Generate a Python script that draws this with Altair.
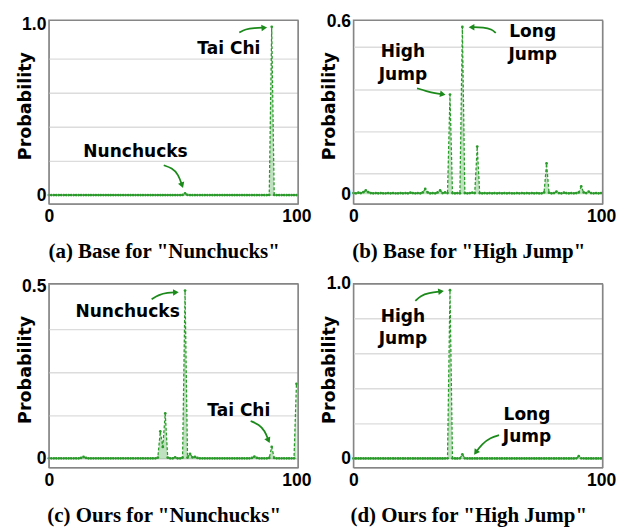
import altair as alt
import pandas as pd

X = list(range(101))

# ---- series values (probability per class index 0..100) ----
prob_a = [
    0.002, 0.002, 0.002, 0.002, 0.002, 0.002, 0.002, 0.002, 0.002, 0.002,
    0.002, 0.002, 0.002, 0.002, 0.002, 0.002, 0.002, 0.002, 0.002, 0.002,
    0.002, 0.002, 0.002, 0.002, 0.002, 0.002, 0.002, 0.002, 0.002, 0.002,
    0.002, 0.002, 0.002, 0.002, 0.002, 0.002, 0.002, 0.002, 0.002, 0.002,
    0.002, 0.002, 0.002, 0.002, 0.002, 0.002, 0.002, 0.002, 0.002, 0.002,
    0.002, 0.002, 0.002, 0.002, 0.003, 0.012, 0.003, 0.002, 0.002, 0.002,
    0.002, 0.002, 0.002, 0.002, 0.002, 0.002, 0.002, 0.002, 0.002, 0.002,
    0.002, 0.002, 0.002, 0.002, 0.002, 0.002, 0.002, 0.002, 0.002, 0.002,
    0.002, 0.002, 0.002, 0.002, 0.002, 0.002, 0.002, 0.002, 0.002, 0.003,
    0.990, 0.003, 0.002, 0.002, 0.002, 0.002, 0.002, 0.002, 0.002, 0.002,
    0.002,
]
prob_b = [
    0.004, 0.003, 0.005, 0.004, 0.007, 0.013, 0.007, 0.004, 0.003, 0.004,
    0.003, 0.004, 0.003, 0.003, 0.004, 0.003, 0.004, 0.003, 0.003, 0.004,
    0.003, 0.004, 0.003, 0.005, 0.004, 0.003, 0.004, 0.003, 0.006, 0.018,
    0.006, 0.003, 0.004, 0.003, 0.006, 0.013, 0.004, 0.006, 0.004, 0.347,
    0.004, 0.003, 0.004, 0.003, 0.583, 0.004, 0.003, 0.004, 0.005, 0.004,
    0.166, 0.004, 0.003, 0.004, 0.003, 0.004, 0.003, 0.004, 0.003, 0.004,
    0.003, 0.004, 0.003, 0.004, 0.003, 0.003, 0.004, 0.003, 0.004, 0.003,
    0.004, 0.003, 0.004, 0.003, 0.004, 0.003, 0.003, 0.006, 0.107, 0.005,
    0.003, 0.004, 0.009, 0.004, 0.003, 0.005, 0.004, 0.003, 0.004, 0.003,
    0.004, 0.006, 0.027, 0.006, 0.004, 0.009, 0.004, 0.003, 0.004, 0.003,
    0.004,
]
prob_c = [
    0.002, 0.002, 0.002, 0.002, 0.002, 0.002, 0.002, 0.002, 0.002, 0.002,
    0.002, 0.002, 0.002, 0.003, 0.006, 0.003, 0.002, 0.002, 0.002, 0.002,
    0.002, 0.002, 0.002, 0.002, 0.002, 0.002, 0.002, 0.002, 0.002, 0.002,
    0.002, 0.002, 0.002, 0.002, 0.002, 0.002, 0.002, 0.002, 0.002, 0.002,
    0.002, 0.002, 0.002, 0.002, 0.004, 0.080, 0.035, 0.132, 0.004, 0.002,
    0.002, 0.005, 0.002, 0.002, 0.004, 0.488, 0.004, 0.015, 0.005, 0.006,
    0.003, 0.002, 0.002, 0.002, 0.002, 0.002, 0.002, 0.002, 0.002, 0.002,
    0.002, 0.002, 0.002, 0.002, 0.002, 0.002, 0.002, 0.002, 0.002, 0.002,
    0.002, 0.002, 0.003, 0.007, 0.003, 0.002, 0.002, 0.002, 0.002, 0.003,
    0.035, 0.003, 0.002, 0.002, 0.002, 0.002, 0.002, 0.002, 0.002, 0.002,
    0.218,
]
prob_d = [
    0.002, 0.002, 0.002, 0.002, 0.002, 0.002, 0.002, 0.002, 0.002, 0.002,
    0.002, 0.002, 0.002, 0.002, 0.002, 0.002, 0.002, 0.002, 0.002, 0.002,
    0.002, 0.002, 0.002, 0.002, 0.002, 0.002, 0.002, 0.002, 0.002, 0.002,
    0.002, 0.002, 0.002, 0.002, 0.002, 0.002, 0.002, 0.002, 0.003, 0.963,
    0.003, 0.002, 0.002, 0.003, 0.025, 0.003, 0.002, 0.002, 0.002, 0.002,
    0.002, 0.002, 0.002, 0.002, 0.002, 0.002, 0.002, 0.002, 0.002, 0.002,
    0.002, 0.002, 0.002, 0.002, 0.002, 0.002, 0.002, 0.002, 0.002, 0.002,
    0.002, 0.002, 0.002, 0.002, 0.002, 0.002, 0.002, 0.002, 0.002, 0.002,
    0.002, 0.002, 0.002, 0.002, 0.002, 0.002, 0.002, 0.002, 0.002, 0.002,
    0.003, 0.015, 0.003, 0.002, 0.002, 0.002, 0.002, 0.002, 0.002, 0.002,
    0.002,
]

# ---- axis settings per panel ----
ydom_a, ytop_a, grid_a = [-0.05, 1.03], 1.0, [0.0, 0.2, 0.4, 0.6, 0.8]
ydom_b, ytop_b, grid_b = [-0.034, 0.607], 0.6, [0.071, 0.217, 0.363, 0.512]
ydom_c, ytop_c, grid_c = [-0.025, 0.508], 0.5, [0.0, 0.125, 0.25, 0.375]
ydom_d, ytop_d, grid_d = [-0.05, 1.0], 1.0, [0.0, 0.2, 0.4, 0.6, 0.8]

captions = ['(a) Base for "Nunchucks"', '(b) Base for "High Jump"',
            '(c) Ours for "Nunchucks"', '(d) Ours for "High Jump"']

# ---- annotations (data coordinates; y is the first text line) ----
txt_a = ["Tai Chi", "Nunchucks"]
tx_a, ty_a = [72.7, 35.0], [0.861, 0.253]
txt_b = ["High\nJump", "Long\nJump"]
tx_b, ty_b = [20.0, 72.4], [0.494, 0.564]
txt_c = ["Nunchucks", "Tai Chi"]
tx_c, ty_c = [31.8, 76.7], [0.425, 0.138]
txt_d = ["High\nJump", "Long\nJump"]
tx_d, ty_d = [20.0, 70.1], [0.810, 0.251]

arr_a = [([76.9, 79.4, 82.9, 87.0], [0.957, 0.976, 0.984, 0.985], 85),
         ([46.4, 49.7, 52.3, 53.8], [0.177, 0.161, 0.124, 0.059], 160)]
arr_b = [([25.7, 29.5, 33.0, 36.1], [0.369, 0.359, 0.351, 0.348], 100),
         ([57.5, 55.8, 52.7, 47.7], [0.562, 0.575, 0.582, 0.582], 270)]
arr_c = [([41.5, 44.4, 47.9, 51.3], [0.463, 0.476, 0.482, 0.483], 88),
         ([81.5, 84.9, 87.2, 88.7], [0.110, 0.100, 0.082, 0.054], 155)]
arr_d = [([25.0, 27.1, 30.3, 35.4], [0.902, 0.931, 0.947, 0.956], 82),
         ([58.8, 55.4, 51.9, 49.4], [0.135, 0.121, 0.085, 0.036], 215)]

GREEN = "#2a9a2a"
DARK = "#1b8a1b"
ANNOT = "DejaVu Sans"
TICKFONT = "Liberation Sans"
W, H = 256, 189


def panel(vals, ydom, ytop, grid, texts, tx, ty, arrows, caption):
    xs = alt.X(
        "x:Q",
        scale=alt.Scale(domain=[0, 100.6], nice=False, zero=False),
        axis=alt.Axis(
            values=[0, 100], format="d", grid=False, domain=False, ticks=False,
            labelFlush=False, labelPadding=4, labelFont=TICKFONT,
            labelFontSize=18, labelFontWeight="bold", labelColor="black",
            title=caption, titleFont="Liberation Serif", titleFontSize=21.5,
            titleFontWeight="bold", titleColor="black", titleX=118, titleY=55,
            titleBaseline="alphabetic", titleAlign="center",
        ),
    )
    ys = alt.Y(
        "y:Q",
        scale=alt.Scale(domain=ydom, nice=False, zero=False),
        axis=alt.Axis(
            values=[0, ytop],
            labelExpr="datum.value == 0 ? '0' : format(datum.value, '.1f')",
            grid=False, domain=False, ticks=False, labelPadding=3,
            labelFont=TICKFONT, labelFontSize=18, labelFontWeight="bold",
            labelColor="black",
            title="Probability", titleFont="DejaVu Sans", titleFontSize=18,
            titleFontWeight="bold", titleColor="black", titleX=-15, titleY=88,
            titleAngle=270, titleBaseline="bottom", titleAlign="center",
        ),
    )
    df = pd.DataFrame({"x": X, "y": vals})
    base = alt.Chart(df)

    g = alt.Chart(pd.DataFrame({"y": grid})).mark_rule(
        color="#dcdcdc", strokeWidth=1.4).encode(y=ys)
    area = base.mark_area(color=GREEN, opacity=0.3).encode(x=xs, y=ys)
    line = base.mark_line(color=GREEN, strokeWidth=1.3,
                          strokeDash=[3, 2]).encode(x=xs, y=ys)
    pts = base.mark_circle(color=GREEN, size=8, opacity=1).encode(x=xs, y=ys)

    tdf = pd.DataFrame({"x": tx, "y": ty, "t": texts})
    txt = alt.Chart(tdf).mark_text(
        font=ANNOT, fontSize=17.5, fontWeight="bold", color="black",
        lineBreak="\n", lineHeight=23, align="center", baseline="middle",
    ).encode(x=xs, y=ys, text="t:N")

    rows, heads = [], []
    for i, (axs, ays, ang) in enumerate(arrows):
        for j, (a, b) in enumerate(zip(axs, ays)):
            rows.append({"x": a, "y": b, "id": i, "o": j})
        heads.append({"x": axs[-1], "y": ays[-1], "a": ang})
    adf = pd.DataFrame(rows)
    hdf = pd.DataFrame(heads)
    arr = alt.Chart(adf).mark_line(
        color=DARK, strokeWidth=1.8, interpolate="basis").encode(
        x=xs, y=ys, detail="id:N", order="o:Q")
    hd = alt.Chart(hdf).mark_point(
        shape="triangle-up", filled=True, size=45, color=DARK, opacity=1,
        strokeWidth=0).encode(x=xs, y=ys, angle=alt.Angle("a:Q", scale=None))

    frame = alt.Chart(pd.DataFrame({"k": [0]})).mark_rect(
        filled=False, stroke="#858585", strokeWidth=1.3).encode(
        x=alt.value(0), x2=alt.value(W), y=alt.value(0), y2=alt.value(H))

    return alt.layer(g, area, line, pts, txt, arr, hd, frame).properties(
        width=W, height=H)


pa = panel(prob_a, ydom_a, ytop_a, grid_a, txt_a, tx_a, ty_a, arr_a, captions[0])
pb = panel(prob_b, ydom_b, ytop_b, grid_b, txt_b, tx_b, ty_b, arr_b, captions[1])
pc = panel(prob_c, ydom_c, ytop_c, grid_c, txt_c, tx_c, ty_c, arr_c, captions[2])
pd_ = panel(prob_d, ydom_d, ytop_d, grid_d, txt_d, tx_d, ty_d, arr_d, captions[3])

chart = alt.concat(
    pa, pb, pc, pd_, columns=2, bounds="flush",
    spacing=alt.RowColnumber(row=82, column=57),
).properties(
    padding={"left": 8, "top": -3, "right": 5, "bottom": 5}
).configure(background="white").configure_view(stroke="#858585", strokeWidth=1)

chart.save("out.html", embed_options={"renderer": "svg", "actions": False})
